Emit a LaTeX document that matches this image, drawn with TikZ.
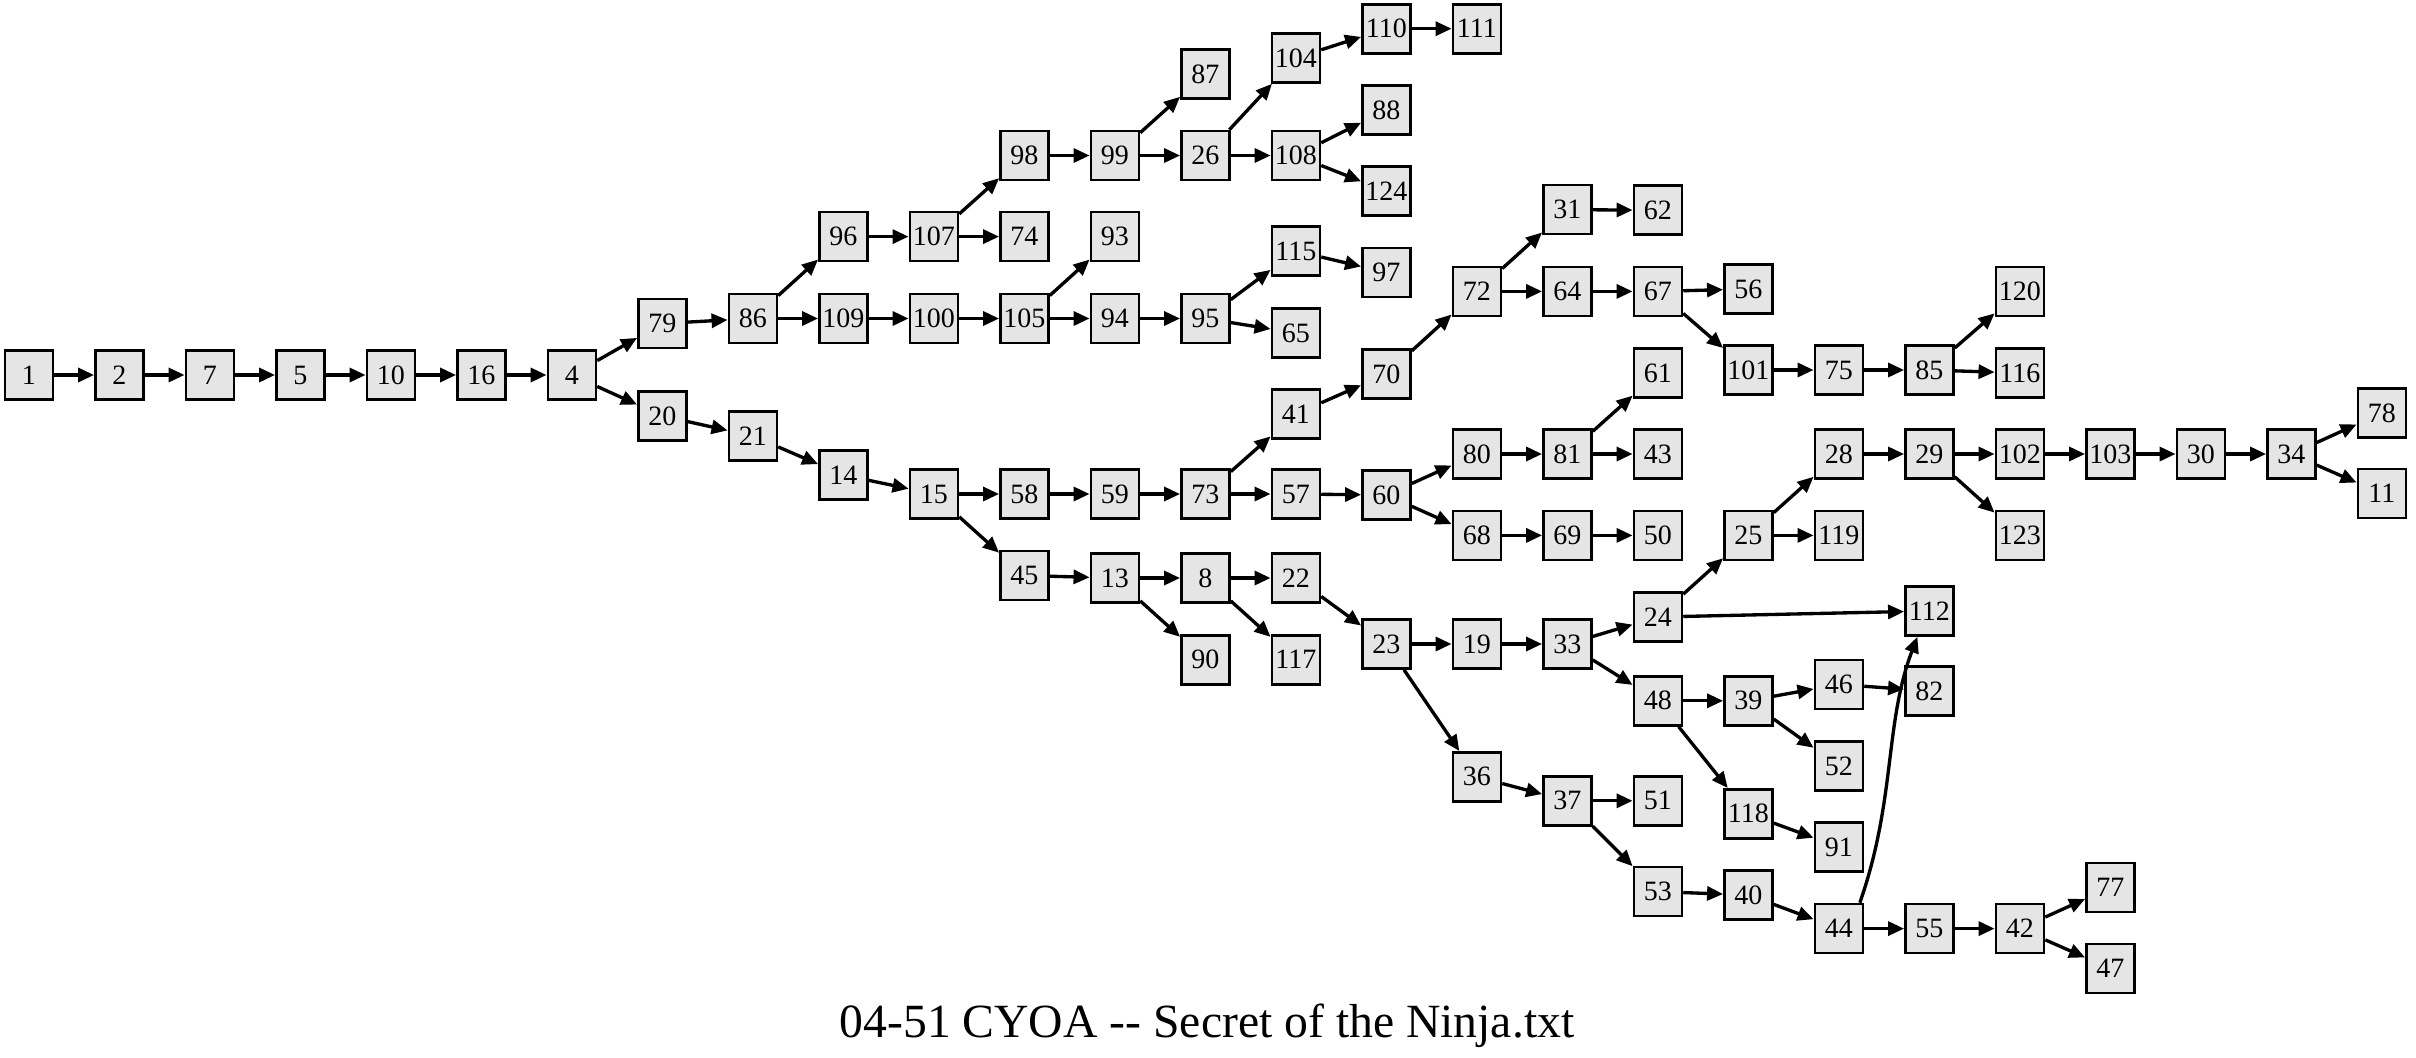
\documentclass[tikz,border=0pt]{standalone}
\usepackage{fontspec}
\setmainfont{Liberation Serif}
\usetikzlibrary{arrows.meta}
\definecolor{boxfill}{HTML}{E5E5E5}
\tikzset{
  box/.style={draw=black, fill=boxfill, rectangle, line width=0.8pt, minimum width=14.4pt, minimum height=14.7pt, inner sep=0pt, font=\fontsize{8.4}{9}\selectfont},
  edge/.style={line width=1pt, -{Triangle[length=4.8pt,width=4.2pt]}},
  ttl/.style={font=\fontsize{14.3}{16}\selectfont, inner sep=0pt}
}
\newcommand{\nd}[3]{\node[box] (n#1) at ({28.9+90.5*#2},#3) {#1};}
\begin{document}
\begin{tikzpicture}[x=0.3pt,y=-0.3pt]
\useasboundingbox (0,0) rectangle (2416,1057);
\nd{1}{0}{375}
\nd{2}{1}{375}
\nd{7}{2}{375}
\nd{5}{3}{375}
\nd{10}{4}{375}
\nd{16}{5}{375}
\nd{4}{6}{375}
\nd{79}{7}{323.5}
\nd{20}{7}{416}
\nd{86}{8}{318.5}
\nd{21}{8}{436}
\nd{96}{9}{236.6}
\nd{109}{9}{318.5}
\nd{14}{9}{475}
\nd{107}{10}{236.6}
\nd{100}{10}{318.5}
\nd{15}{10}{494}
\nd{98}{11}{155.5}
\nd{74}{11}{236.6}
\nd{105}{11}{318.5}
\nd{58}{11}{494}
\nd{45}{11}{575.5}
\nd{99}{12}{155.5}
\nd{93}{12}{236.6}
\nd{94}{12}{318.5}
\nd{59}{12}{494}
\nd{13}{12}{578}
\nd{87}{13}{74}
\nd{26}{13}{155.5}
\nd{95}{13}{318.5}
\nd{73}{13}{494}
\nd{8}{13}{578}
\nd{90}{13}{659.7}
\nd{104}{14}{58}
\nd{108}{14}{155.5}
\nd{115}{14}{251}
\nd{65}{14}{333}
\nd{41}{14}{414}
\nd{57}{14}{494}
\nd{22}{14}{578}
\nd{117}{14}{659.7}
\nd{110}{15}{28.7}
\nd{88}{15}{110}
\nd{124}{15}{191.3}
\nd{97}{15}{272.5}
\nd{70}{15}{374}
\nd{60}{15}{495}
\nd{23}{15}{644}
\nd{111}{16}{28.7}
\nd{72}{16}{291.4}
\nd{80}{16}{454}
\nd{68}{16}{535.4}
\nd{19}{16}{644}
\nd{36}{16}{776.8}
\nd{31}{17}{209.6}
\nd{64}{17}{291.4}
\nd{81}{17}{454}
\nd{69}{17}{535.4}
\nd{33}{17}{644}
\nd{37}{17}{800.8}
\nd{62}{18}{210.3}
\nd{67}{18}{291.4}
\nd{61}{18}{373}
\nd{43}{18}{454}
\nd{50}{18}{535.4}
\nd{24}{18}{617}
\nd{48}{18}{700.8}
\nd{51}{18}{800.8}
\nd{53}{18}{891.6}
\nd{56}{19}{289}
\nd{101}{19}{370}
\nd{25}{19}{535.4}
\nd{39}{19}{700.8}
\nd{118}{19}{813.8}
\nd{40}{19}{895}
\nd{75}{20}{370}
\nd{28}{20}{454}
\nd{119}{20}{535.4}
\nd{46}{20}{684.4}
\nd{52}{20}{766}
\nd{91}{20}{847}
\nd{44}{20}{928.6}
\nd{85}{21}{370}
\nd{29}{21}{454}
\nd{112}{21}{611}
\nd{82}{21}{691}
\nd{55}{21}{928.6}
\nd{120}{22}{291.4}
\nd{116}{22}{373}
\nd{102}{22}{454}
\nd{123}{22}{535.4}
\nd{42}{22}{928.6}
\nd{103}{23}{454}
\nd{77}{23}{887.5}
\nd{47}{23}{968.6}
\nd{30}{24}{454}
\nd{34}{25}{454}
\nd{78}{26}{413}
\nd{11}{26}{493.6}
\foreach \a/\b in {1/2,2/7,7/5,5/10,10/16,16/4,4/79,4/20,79/86,20/21,21/14,
  86/96,86/109,96/107,107/98,107/74,98/99,99/87,99/26,26/104,26/108,104/110,110/111,
  108/88,108/124,109/100,100/105,105/93,105/94,94/95,95/115,95/65,115/97,
  14/15,15/58,15/45,58/59,59/73,73/41,73/57,41/70,70/72,72/31,72/64,31/62,64/67,
  67/56,67/101,101/75,75/85,85/120,85/116,57/60,60/80,60/68,80/81,81/61,81/43,
  68/69,69/50,45/13,13/8,13/90,8/22,8/117,22/23,23/19,23/36,19/33,33/24,33/48,
  24/25,24/112,25/28,25/119,28/29,29/102,29/123,102/103,103/30,30/34,34/78,34/11,
  48/39,48/118,39/46,39/52,46/82,118/91,36/37,37/51,37/53,53/40,40/44,44/55,
  55/42,42/77,42/47}
  \draw[edge] (n\a) -- (n\b);
\draw[edge] (n44.51) .. controls +(36,-103) and +(-33,87) .. (n112.245);
\node[ttl, anchor=base] (title) at (1207,1037) {04-51 CYOA -{}- Secret of the Ninja.txt};
\end{tikzpicture}
\end{document}
